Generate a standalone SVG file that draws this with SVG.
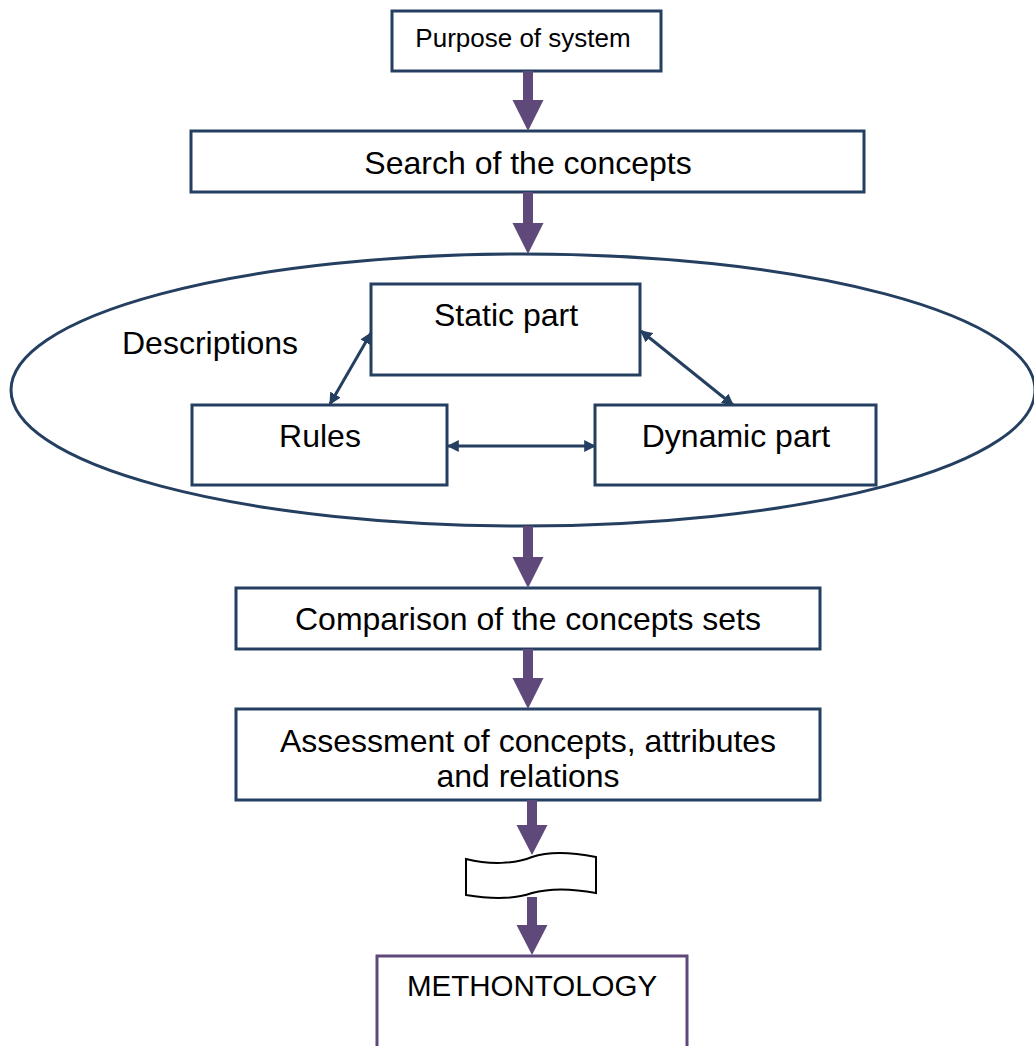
<svg xmlns="http://www.w3.org/2000/svg" width="1034" height="1046" viewBox="0 0 1034 1046">
<style>
.box{fill:#fff;stroke:#243F60;stroke-width:3}
.t{font-family:"Liberation Sans",Arial,sans-serif;fill:#000;text-anchor:middle}
.pa{fill:#5F497A}
.bl{stroke:#243F60;stroke-width:3;fill:none}
</style>
<defs>
<marker id="ah" viewBox="0 0 10 10" refX="9" refY="5" markerWidth="4" markerHeight="4" orient="auto-start-reverse" markerUnits="strokeWidth">
<path d="M0,0 L10,5 L0,10 z" fill="#243F60"/>
</marker>
</defs>
<rect width="1034" height="1046" fill="#fff"/>
<g id="ellipse-descriptions">
<ellipse cx="523" cy="390" rx="512" ry="136" class="bl"/>
<text class="t" x="210" y="354" font-size="32">Descriptions</text>
</g>
<g id="purpose">
<rect class="box" x="392" y="11" width="269" height="60"/>
<text class="t" x="523" y="47" font-size="26">Purpose of system</text>
</g>
<g id="search">
<rect class="box" x="191" y="131" width="673" height="61"/>
<text class="t" x="528" y="174" font-size="32">Search of the concepts</text>
</g>
<g id="static">
<rect class="box" x="371" y="284" width="269" height="91"/>
<text class="t" x="506" y="326" font-size="32">Static part</text>
</g>
<g id="rules">
<rect class="box" x="192" y="405" width="255" height="80"/>
<text class="t" x="320" y="447" font-size="32">Rules</text>
</g>
<g id="dynamic">
<rect class="box" x="595" y="405" width="281" height="80"/>
<text class="t" x="736" y="447" font-size="32">Dynamic part</text>
</g>
<g id="comparison">
<rect class="box" x="236" y="588" width="584" height="61"/>
<text class="t" x="528" y="630" font-size="32">Comparison of the concepts sets</text>
</g>
<g id="assessment">
<rect class="box" x="236" y="709" width="584" height="91"/>
<text class="t" x="528" y="752" font-size="32">Assessment of concepts, attributes</text>
<text class="t" x="528" y="787" font-size="32">and relations</text>
</g>
<g id="tape">
<path d="M466,859 C490,865 515,864 532,857 C550,851 575,853 596,857 V893 C575,889 550,888 532,893 C515,899 490,899 466,895 Z" fill="#fff" stroke="#000" stroke-width="2"/>
</g>
<g id="methontology">
<path d="M377,1046 V956 H687 V1046" fill="#fff" stroke="#5F497A" stroke-width="3"/>
<text class="t" x="532" y="996" font-size="29.5">METHONTOLOGY</text>
</g>
<g id="connectors">
<polygon class="pa" points="523,71 533,71 533,100 543.5,100 528,131 512.5,100 523,100"/>
<polygon class="pa" points="523,192 533,192 533,223 543.5,223 528,254 512.5,223 523,223"/>
<polygon class="pa" points="523,526 533,526 533,557 543.5,557 528,588 512.5,557 523,557"/>
<polygon class="pa" points="523,649 533,649 533,678 543.5,678 528,709 512.5,678 523,678"/>
<polygon class="pa" points="527,800 537,800 537,825 547.5,825 532,855 516.5,825 527,825"/>
<polygon class="pa" points="527,897 537,897 537,925 547.5,925 532,955 516.5,925 527,925"/>
<line class="bl" x1="330" y1="404" x2="371" y2="333" marker-start="url(#ah)" marker-end="url(#ah)"/>
<line class="bl" x1="641" y1="331" x2="733" y2="405" marker-start="url(#ah)" marker-end="url(#ah)"/>
<line class="bl" x1="448" y1="446" x2="595" y2="446" marker-start="url(#ah)" marker-end="url(#ah)"/>
</g>
</svg>
